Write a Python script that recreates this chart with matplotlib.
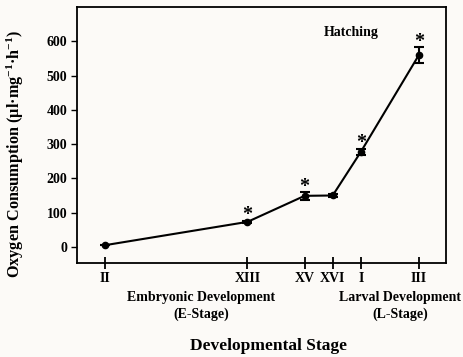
import matplotlib.pyplot as plt

plt.rcParams['font.family'] = ['Liberation Serif', 'DejaVu Serif']
plt.rcParams['font.weight'] = 'bold'
plt.rcParams['mathtext.fontset'] = 'custom'
plt.rcParams['mathtext.rm'] = 'Liberation Serif:bold'
plt.rcParams['mathtext.bf'] = 'Liberation Serif:bold'
plt.rcParams['mathtext.it'] = 'Liberation Serif:bold'

# developmental stages and their spacing along the axis
stages = ['II', 'XIII', 'XV', 'XVI', 'I', 'III']
stage_x = [0.0, 14.2, 19.9, 22.7, 25.5, 31.3]
o2_rate = [5, 73, 149, 150, 277, 560]
o2_err = [0, 4, 12, 3, 10, 23]
significant = [False, True, True, False, True, True]

bg = '#fcfaf7'
fig = plt.figure(figsize=(4.63, 3.57), dpi=100, facecolor=bg)
ax = fig.add_axes([77 / 463, 1 - 263 / 357, (446 - 77) / 463, (263 - 7) / 357])
ax.set_facecolor(bg)

ax.errorbar(stage_x, o2_rate, yerr=o2_err, color='black', lw=1.5,
            marker='o', markersize=4.5, capsize=3.5, elinewidth=1.5, capthick=1.5)

# asterisks over the stages that differ significantly
for x, y, e, s in zip(stage_x, o2_rate, o2_err, significant):
    if s:
        ax.text(x, y + e - 14, '*', ha='center', va='bottom', fontsize=14.5)

ax.set_xlim(-2.8, 34.0)
ax.set_ylim(-47, 700)
ax.set_xticks(stage_x)
ax.set_xticklabels(stages, fontsize=10)
ax.set_yticks(range(0, 700, 100))
ax.tick_params(axis='y', direction='out', length=4, width=1, labelsize=10, pad=3)
ax.tick_params(axis='x', direction='inout', length=9, width=1.3, pad=2)
for sp in ax.spines.values():
    sp.set_linewidth(1.3)

ax.text(24.5, 625, 'Hatching', ha='center', va='center', fontsize=10)

fig.text(201 / 463, 1 - 297 / 357, 'Embryonic Development', ha='center', va='center', fontsize=10)
fig.text(201 / 463, 1 - 314 / 357, '(E-Stage)', ha='center', va='center', fontsize=10)
fig.text(400 / 463, 1 - 297 / 357, 'Larval Development', ha='center', va='center', fontsize=10)
fig.text(400 / 463, 1 - 314 / 357, '(L-Stage)', ha='center', va='center', fontsize=10)
fig.text(268 / 463, 1 - 346 / 357, 'Developmental Stage', ha='center', va='center', fontsize=12.5)
fig.text(15 / 463, 1 - 154 / 357,
         'Oxygen Consumption (µl·mg$^{-1}$·h$^{-1}$)',
         rotation=90, ha='center', va='center', fontsize=11.7)

fig.savefig('out.png', dpi=100, facecolor=bg)
